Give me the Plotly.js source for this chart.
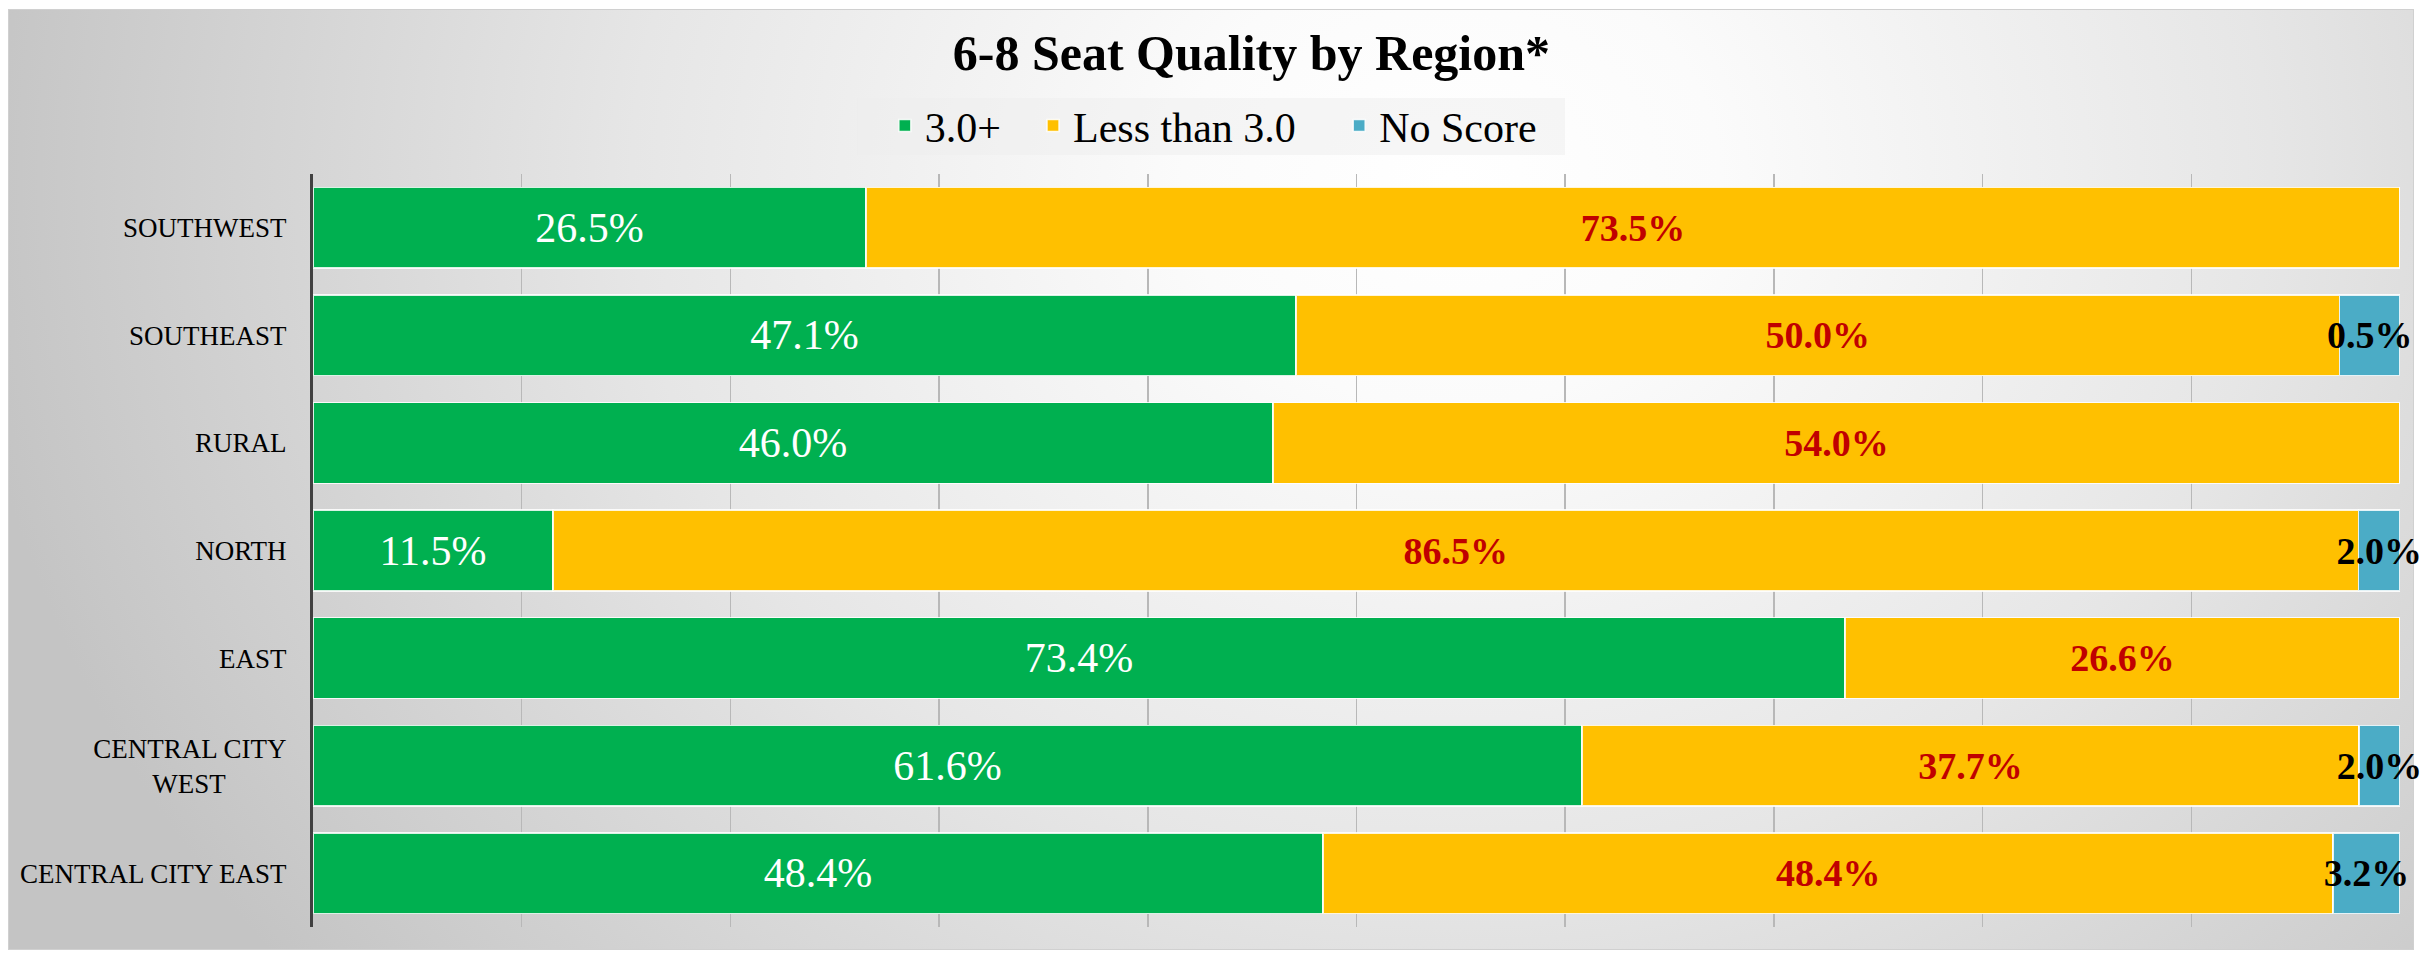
<!DOCTYPE html>
<html>
<head>
<meta charset="utf-8">
<script src="https://cdn.plot.ly/plotly-3.0.1.min.js"></script>
<style>
  html, body { margin: 0; padding: 0; width: 2430px; height: 953px; overflow: hidden; background: #ffffff; }
  #bg {
    position: absolute; left: 8px; top: 9px; width: 2404px; height: 939px;
    border: 1px solid #d0d0d0;
    background: radial-gradient(ellipse 62% 135% at 60% 18%, #ffffff 0%, #fbfbfb 18%, #e6e6e6 55%, #c4c4c4 100%);
  }
  #chart { position: absolute; left: 0; top: 0; width: 2430px; height: 953px; }
</style>
</head>
<body>
<div id="bg"></div>
<div id="chart"></div>
<script>
// Regions, top to bottom
const regions = ["SOUTHWEST", "SOUTHEAST", "RURAL", "NORTH", "EAST", "CENTRAL CITY WEST", "CENTRAL CITY EAST"];
const regionTickText = ["SOUTHWEST", "SOUTHEAST", "RURAL", "NORTH", "EAST",
  "CENTRAL CITY<br>WEST\u00A0\u00A0\u00A0\u00A0\u00A0\u00A0\u00A0\u00A0\u00A0", "CENTRAL CITY EAST"];

// Series values (percent shares)
const seriesNames = ["3.0+", "Less than 3.0", "No Score"];
const good     = [26.5, 47.1, 46.0, 11.5, 73.4, 61.6, 48.4];
const lessThan = [73.5, 50.0, 54.0, 86.5, 26.6, 37.7, 48.4];
const noScore  = [0, 2.9, 0, 2.0, 0, 2.0, 3.2];

// Data labels as printed on the chart
const goodLabels     = ["26.5%", "47.1%", "46.0%", "11.5%", "73.4%", "61.6%", "48.4%"];
const lessThanLabels = ["73.5%", "50.0%", "54.0%", "86.5%", "26.6%", "37.7%", "48.4%"];
const noScoreLabels  = ["", "0.5%", "", "2.0%", "", "2.0%", "3.2%"];

const colors = ["#00B050", "#FFC000", "#4BACC6"];
const labelColors = ["#ffffff", "#C00000", "#000000"];
const labelWeights = [400, 700, 700];
const labelSizes = [42, 38, 38];
const legendIds = ["legend", "legend2", "legend3"];

const FONT = "Liberation Serif";

const seriesValues = [good, lessThan, noScore];
const seriesLabels = [goodLabels, lessThanLabels, noScoreLabels];

const traces = seriesValues.map((vals, i) => {
  const tf = { family: FONT, size: labelSizes[i], color: labelColors[i], weight: labelWeights[i] };
  return {
    type: "bar",
    orientation: "h",
    name: seriesNames[i],
    legend: legendIds[i],
    y: regions,
    x: vals,
    text: seriesLabels[i],
    textposition: "inside",
    insidetextanchor: "middle",
    textangle: 0,
    constraintext: "none",
    cliponaxis: false,
    textfont: tf,
    insidetextfont: tf,
    marker: { color: colors[i], line: { color: "rgba(255,255,255,0.85)", width: 1.5 } },
    hoverinfo: "skip"
  };
});

function legendAt(x) {
  return {
    orientation: "h",
    x: x, xanchor: "left",
    y: 1.064, yanchor: "middle",
    bgcolor: "rgba(0,0,0,0)",
    borderwidth: 0,
    font: { family: FONT, size: 42, color: "#000000" },
    itemwidth: 30
  };
}

const layout = {
  width: 2430,
  height: 953,
  barmode: "stack",
  barnorm: "percent",
  bargap: 0.25,
  paper_bgcolor: "rgba(0,0,0,0)",
  plot_bgcolor: "rgba(0,0,0,0)",
  font: { family: FONT, color: "#000000" },
  margin: { l: 313, r: 30, t: 174, b: 26, pad: 0 },
  title: {
    text: "6-8 Seat Quality by Region*",
    font: { family: FONT, size: 50, color: "#000000", weight: "bold" },
    x: 0.515, xref: "container", xanchor: "center",
    y: 0.945, yref: "container", yanchor: "middle"
  },
  showlegend: true,
  legend: legendAt(0.2740),
  legend2: legendAt(0.3450),
  legend3: legendAt(0.4917),
  shapes: [{
    type: "rect", xref: "paper", yref: "paper",
    x0: 0.2607, x1: 0.5999, y0: 1.0252, y1: 1.1009,
    fillcolor: "rgba(238,238,238,0.5)", line: { width: 0 }, layer: "below"
  }],
  xaxis: {
    range: [0, 100],
    dtick: 10,
    tick0: 0,
    showgrid: true,
    gridcolor: "#b8b8b8",
    gridwidth: 1.5,
    zeroline: false,
    showticklabels: false,
    showline: false,
    fixedrange: true
  },
  yaxis: {
    autorange: "reversed",
    tickmode: "array",
    tickvals: regions,
    ticktext: regionTickText,
    showline: true,
    linecolor: "#404040",
    linewidth: 3,
    showgrid: false,
    zeroline: false,
    ticks: "",
    ticklabelstandoff: 18,
    tickfont: { family: FONT, size: 27, color: "#000000" },
    fixedrange: true
  }
};

Plotly.newPlot("chart", traces, layout, { displayModeBar: false, staticPlot: true });
</script>
</body>
</html>
